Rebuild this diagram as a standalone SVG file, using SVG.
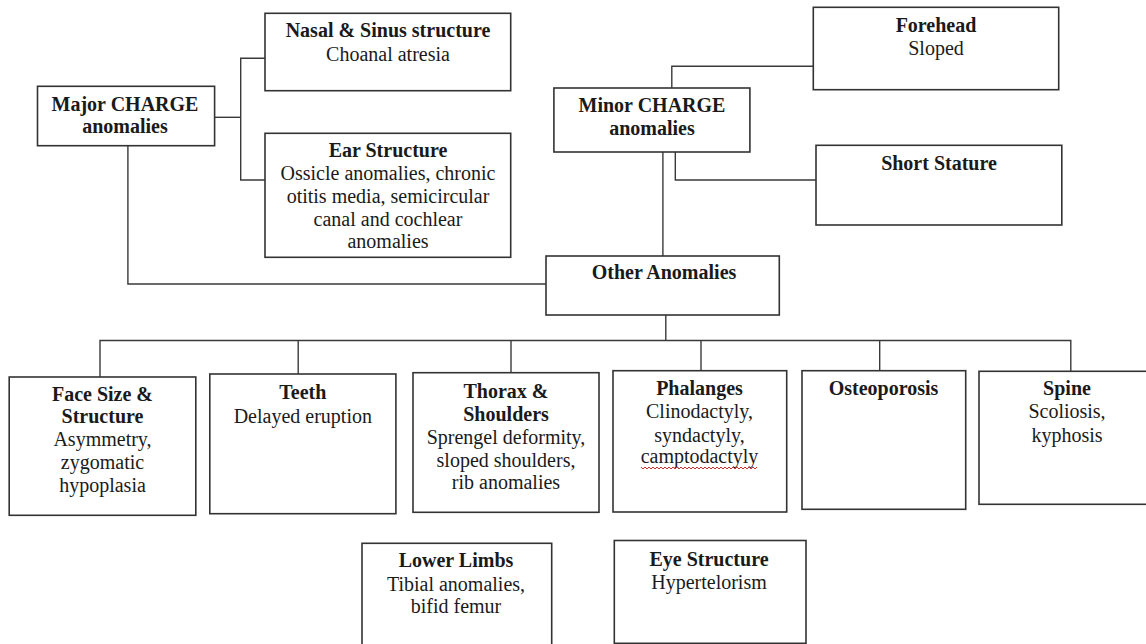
<svg xmlns="http://www.w3.org/2000/svg" width="1146" height="644" viewBox="0 0 1146 644">
  <style>
    .box { fill: #ffffff; stroke: #333333; stroke-width: 1.6; }
    .link { fill: none; stroke: #3a3a3a; stroke-width: 1.4; }
    text { font-family: "Liberation Serif", "Times New Roman", serif; font-size: 20px; fill: #1a1a1a; text-anchor: middle; }
    .t { font-weight: bold; }
    .squiggle { fill: none; stroke: #d03030; stroke-width: 1; }
  </style>
  <rect width="1146" height="644" fill="#ffffff"/>

  <!-- connectors -->
  <g id="connectors">
    <!-- major anomalies branch -->
    <polyline class="link" points="214.6,117.3 240.7,117.3"/>
    <polyline class="link" points="265,58.3 240.7,58.3 240.7,180 265,180"/>
    <polyline class="link" points="127.9,145.7 127.9,284 546,284"/>
    <!-- minor anomalies branch -->
    <polyline class="link" points="671.8,88 671.8,66.3 813.3,66.3"/>
    <polyline class="link" points="675.3,152 675.3,180 816,180"/>
    <polyline class="link" points="662.9,152 662.9,256"/>
    <!-- other anomalies bus -->
    <polyline class="link" points="665.8,315 665.8,340.5"/>
    <polyline class="link" points="100,377 100,340.5 1070.8,340.5 1070.8,371.3"/>
    <line class="link" x1="298.2" y1="340.5" x2="298.2" y2="374"/>
    <line class="link" x1="511" y1="340.5" x2="511" y2="372.7"/>
    <line class="link" x1="701" y1="340.5" x2="701" y2="370.7"/>
    <line class="link" x1="879.7" y1="340.5" x2="879.7" y2="370.7"/>
  </g>

  <g id="major">
    <rect class="box" x="37.5" y="86.3" width="177.1" height="59.4"/>
    <text class="t" x="125" y="111">Major CHARGE</text>
    <text class="t" x="125" y="133.3">anomalies</text>
  </g>

  <g id="nasal">
    <rect class="box" x="265" y="13.3" width="245.7" height="77.4"/>
    <text class="t" x="388" y="37.3">Nasal &amp; Sinus structure</text>
    <text x="388" y="60.7">Choanal atresia</text>
  </g>

  <g id="ear">
    <rect class="box" x="265" y="133.3" width="245.7" height="124"/>
    <text class="t" x="388" y="157.3">Ear Structure</text>
    <text x="388" y="180">Ossicle anomalies, chronic</text>
    <text x="388" y="203">otitis media, semicircular</text>
    <text x="388" y="225.7">canal and cochlear</text>
    <text x="388" y="248.3">anomalies</text>
  </g>

  <g id="minor">
    <rect class="box" x="553.9" y="88" width="196" height="64"/>
    <text class="t" x="652" y="112.3">Minor CHARGE</text>
    <text class="t" x="652" y="135">anomalies</text>
  </g>

  <g id="forehead">
    <rect class="box" x="813.3" y="7.3" width="245.4" height="82.4"/>
    <text class="t" x="936" y="31.7">Forehead</text>
    <text x="936" y="55">Sloped</text>
  </g>

  <g id="short-stature">
    <rect class="box" x="816" y="145.3" width="245.8" height="79.7"/>
    <text class="t" x="939" y="170">Short Stature</text>
  </g>

  <g id="other">
    <rect class="box" x="546" y="256" width="233.3" height="59"/>
    <text class="t" x="664" y="279.3">Other Anomalies</text>
  </g>

  <g id="face">
    <rect class="box" x="9.2" y="377" width="186.6" height="138.3"/>
    <text class="t" x="102.5" y="401">Face Size &amp;</text>
    <text class="t" x="102.5" y="423.3">Structure</text>
    <text x="102.5" y="446.3">Asymmetry,</text>
    <text x="102.5" y="468.5">zygomatic</text>
    <text x="102.5" y="491.5">hypoplasia</text>
  </g>

  <g id="teeth">
    <rect class="box" x="209.8" y="374" width="186.1" height="139.7"/>
    <text class="t" x="302.8" y="399.3">Teeth</text>
    <text x="302.8" y="422.7">Delayed eruption</text>
  </g>

  <g id="thorax">
    <rect class="box" x="413" y="372.7" width="186" height="139.6"/>
    <text class="t" x="506" y="398.3">Thorax &amp;</text>
    <text class="t" x="506" y="421">Shoulders</text>
    <text x="506" y="444">Sprengel deformity,</text>
    <text x="506" y="466.7">sloped shoulders,</text>
    <text x="506" y="489">rib anomalies</text>
  </g>

  <g id="phalanges">
    <rect class="box" x="613" y="370.7" width="173.7" height="141.3"/>
    <text class="t" x="699.5" y="395">Phalanges</text>
    <text x="699.5" y="418.3">Clinodactyly,</text>
    <text x="699.5" y="441.7">syndactyly,</text>
    <text x="699.5" y="463.3">camptodactyly</text>
    <polyline class="squiggle" points="641,467 643,469 645,467 647,469 649,467 651,469 653,467 655,469 657,467 659,469 661,467 663,469 665,467 667,469 669,467 671,469 673,467 675,469 677,467 679,469 681,467 683,469 685,467 687,469 689,467 691,469 693,467 695,469 697,467 699,469 701,467 703,469 705,467 707,469 709,467 711,469 713,467 715,469 717,467 719,469 721,467 723,469 725,467 727,469 729,467 731,469 733,467 735,469 737,467 739,469 741,467 743,469 745,467 747,469 749,467 751,469 753,467 755,469 757,467"/>
  </g>

  <g id="osteoporosis">
    <rect class="box" x="802" y="370.7" width="163.7" height="138.6"/>
    <text class="t" x="883.5" y="395">Osteoporosis</text>
  </g>

  <g id="spine">
    <rect class="box" x="979" y="371.3" width="177" height="133"/>
    <text class="t" x="1067" y="395">Spine</text>
    <text x="1067" y="418.3">Scoliosis,</text>
    <text x="1067" y="441.7">kyphosis</text>
  </g>

  <g id="lower-limbs">
    <rect class="box" x="362" y="543.3" width="189.7" height="110"/>
    <text class="t" x="456" y="567">Lower Limbs</text>
    <text x="456" y="591">Tibial anomalies,</text>
    <text x="456" y="613.3">bifid femur</text>
  </g>

  <g id="eye">
    <rect class="box" x="614.3" y="540.5" width="191.7" height="102.8"/>
    <text class="t" x="709" y="566">Eye Structure</text>
    <text x="709" y="589.3">Hypertelorism</text>
  </g>
</svg>
